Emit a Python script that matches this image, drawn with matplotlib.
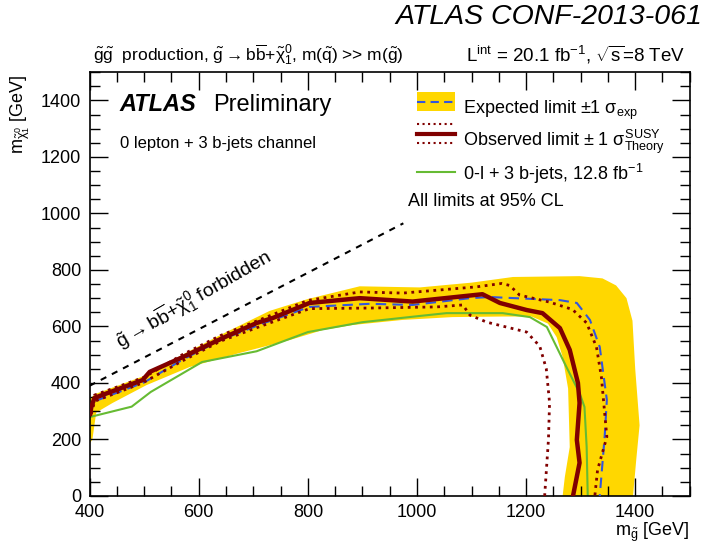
import numpy as np
import matplotlib
matplotlib.use('Agg')
import matplotlib.pyplot as plt
from matplotlib.lines import Line2D
from matplotlib.patches import Patch, Rectangle
from matplotlib.legend_handler import HandlerBase

plt.rcParams['font.family'] = ['Liberation Sans', 'DejaVu Sans']
plt.rcParams['mathtext.fontset'] = 'custom'
plt.rcParams['mathtext.rm'] = 'Liberation Sans'
plt.rcParams['mathtext.it'] = 'Liberation Sans'
plt.rcParams['mathtext.bf'] = 'Liberation Sans:bold'

# expected +-1 sigma band (outer edge, inner edge)
band_up_x = [400, 412, 500, 570, 640, 730, 800, 895, 1005, 1100, 1176, 1298, 1340, 1365, 1384, 1395, 1400, 1408, 1402, 1396]
band_up_y = [345, 362, 425, 500, 570, 655, 697, 742, 738, 755, 775, 778, 770, 745, 700, 620, 450, 250, 130, 0]
band_lo_x = [400, 405, 412, 442, 504, 583, 675, 767, 827, 882, 974, 1065, 1157, 1210, 1240, 1256, 1267, 1277, 1280, 1271, 1267]
band_lo_y = [185, 200, 295, 329, 392, 456, 506, 552, 587, 605, 623, 633, 635, 635, 610, 562, 492, 380, 173, 67, 0]

# expected limit
exp_x = [400, 403, 409, 500, 570, 640, 717, 803, 913, 992, 1097, 1133, 1262, 1293, 1317, 1335, 1348, 1344, 1335]
exp_y = [285, 305, 335, 402, 482, 552, 610, 669, 680, 676, 700, 704, 693, 683, 623, 527, 340, 209, 0]

# observed limit
obs_x = [401, 403, 409, 497, 510, 569, 644, 706, 736, 803, 895, 992, 1120, 1152, 1201, 1230, 1262, 1280, 1295, 1298, 1293, 1298, 1286]
obs_y = [290, 315, 347, 410, 439, 490, 559, 612, 630, 683, 700, 688, 714, 683, 658, 647, 594, 517, 400, 329, 198, 117, 0]

# observed +1 sigma theory
obs_up_x = [402, 409, 500, 570, 640, 710, 800, 895, 974, 1109, 1155, 1170, 1188, 1243, 1285, 1311, 1329, 1338, 1348, 1331, 1326]
obs_up_y = [305, 357, 420, 500, 568, 622, 692, 722, 718, 740, 752, 745, 711, 686, 660, 612, 527, 421, 209, 92, 0]

# observed -1 sigma theory
obs_dn_x = [403, 409, 497, 570, 640, 717, 803, 913, 1036, 1084, 1097, 1128, 1201, 1225, 1237, 1243, 1241, 1234]
obs_dn_y = [290, 335, 400, 478, 548, 603, 663, 665, 669, 676, 640, 615, 580, 530, 450, 330, 200, 0]

# previous result 0-l + 3 b-jets, 12.8 fb-1
old_x = [400, 477, 512, 606, 706, 800, 900, 1005, 1054, 1157, 1207, 1238, 1256, 1274, 1298, 1307, 1311, 1313]
old_y = [279, 316, 368, 474, 512, 580, 615, 637, 647, 647, 633, 598, 527, 456, 364, 315, 173, 0]

# kinematic limit
kin_x = [400, 975]
kin_y = [390, 965]

red = '#800000'
yellow = '#FFD700'
blue = '#3355DD'
green = '#66BB33'


class ObsHandler(HandlerBase):
    def create_artists(self, legend, orig, xd, yd, w, h, fs, trans):
        a = Line2D([xd, xd + w], [yd + h / 2] * 2, color=red, lw=3, transform=trans)
        b = Line2D([xd, xd + w], [yd + h] * 2, color=red, lw=1.5, ls=':', transform=trans)
        c = Line2D([xd, xd + w], [yd, yd], color=red, lw=1.5, ls=':', transform=trans)
        return [b, c, a]


class ExpHandler(HandlerBase):
    def create_artists(self, legend, orig, xd, yd, w, h, fs, trans):
        r = Rectangle((xd, yd), w, h, facecolor=yellow, edgecolor='none', transform=trans)
        l = Line2D([xd, xd + w], [yd + h / 2] * 2, color=blue, lw=1.5, ls=(0, (4, 2.5)), transform=trans)
        return [r, l]


fig = plt.figure(figsize=(7.06, 5.51), dpi=100)
ax = fig.add_axes([0.127, 0.1, 0.85, 0.769])

ax.fill(band_up_x + band_lo_x[::-1], band_up_y + band_lo_y[::-1], color=yellow, lw=0, zorder=1)
ax.plot(old_x, old_y, color=green, lw=1.5, zorder=2)
ax.plot(exp_x, exp_y, color=blue, lw=1.5, ls=(0, (5, 3)), zorder=3)
ax.plot(obs_up_x, obs_up_y, color=red, lw=2, ls=':', zorder=4)
ax.plot(obs_dn_x, obs_dn_y, color=red, lw=2, ls=':', zorder=4)
ax.plot(obs_x, obs_y, color=red, lw=3.2, zorder=5)
ax.plot(kin_x, kin_y, color='black', lw=1.5, ls=(0, (3, 3)), zorder=2)

ax.set_xlim(400, 1500)
ax.set_ylim(0, 1500)
ax.set_xticks(np.arange(400, 1500, 200))
ax.set_yticks(np.arange(0, 1500, 200))
ax.set_xticks(np.arange(400, 1501, 50), minor=True)
ax.set_yticks(np.arange(0, 1501, 50), minor=True)
ax.tick_params(which='both', direction='in', top=True, right=True, labelsize=13, pad=6)
ax.tick_params(which='major', length=13, width=1)
ax.tick_params(which='minor', length=7, width=1)
for s in ax.spines.values():
    s.set_linewidth(1.2)

ax.text(457, 520, r'$\tilde{g} \rightarrow b\overline{b}$+$\tilde{\chi}^{0}_{1}$ forbidden',
        rotation=30, rotation_mode='anchor', fontsize=14, ha='left', va='baseline')

ax.text(0.05, 0.923, 'ATLAS', transform=ax.transAxes, fontsize=17, fontweight='bold',
        style='italic', va='center')
ax.text(0.205, 0.923, 'Preliminary', transform=ax.transAxes, fontsize=17, va='center')
ax.text(0.05, 0.8325, '0 lepton + 3 b-jets channel', transform=ax.transAxes, fontsize=12, va='center')
ax.text(0.53, 0.695, 'All limits at 95% CL', transform=ax.transAxes, fontsize=13, va='center')

h_exp = Patch()
h_obs = Rectangle((0, 0), 1, 1)
h_old = Line2D([], [], color=green, lw=1.5)
ax.legend([h_exp, h_obs, h_old],
          [r'Expected limit $\pm$1 $\sigma_{\rm exp}$',
           r'Observed limit $\pm$ 1 $\sigma^{\rm SUSY}_{\rm Theory}$',
           r'0-l + 3 b-jets, 12.8 fb$^{-1}$'],
          handler_map={Patch: ExpHandler(), Rectangle: ObsHandler()},
          loc='upper left', bbox_to_anchor=(0.518, 0.975), frameon=False, fontsize=13,
          handlelength=2.1, handleheight=1.22, handletextpad=0.45, labelspacing=0.3)

fig.text(0.132, 0.9, r'$\tilde{g}\tilde{g}$  production, $\tilde{g} \rightarrow b\overline{b}$+$\tilde{\chi}^{0}_{1}$, m($\tilde{q}$) >> m($\tilde{g}$)',
         fontsize=12.5, va='center', ha='left')
fig.text(0.97, 0.9, r'L$^{\rm int}$ = 20.1 fb$^{-1}$, $\sqrt{\rm s}$=8 TeV', fontsize=13.5,
         va='center', ha='right')
fig.text(0.995, 0.969, 'ATLAS CONF-2013-061', fontsize=20.5, style='italic', va='center', ha='right')
fig.text(0.028, 0.865, r'm$_{\tilde{\chi}^{0}_{1}}$ [GeV]', rotation=90, fontsize=13, va='top', ha='center')
fig.text(0.977, 0.033, r'm$_{\tilde{g}}$ [GeV]', fontsize=13, va='center', ha='right')

fig.savefig('out.png', dpi=100)
